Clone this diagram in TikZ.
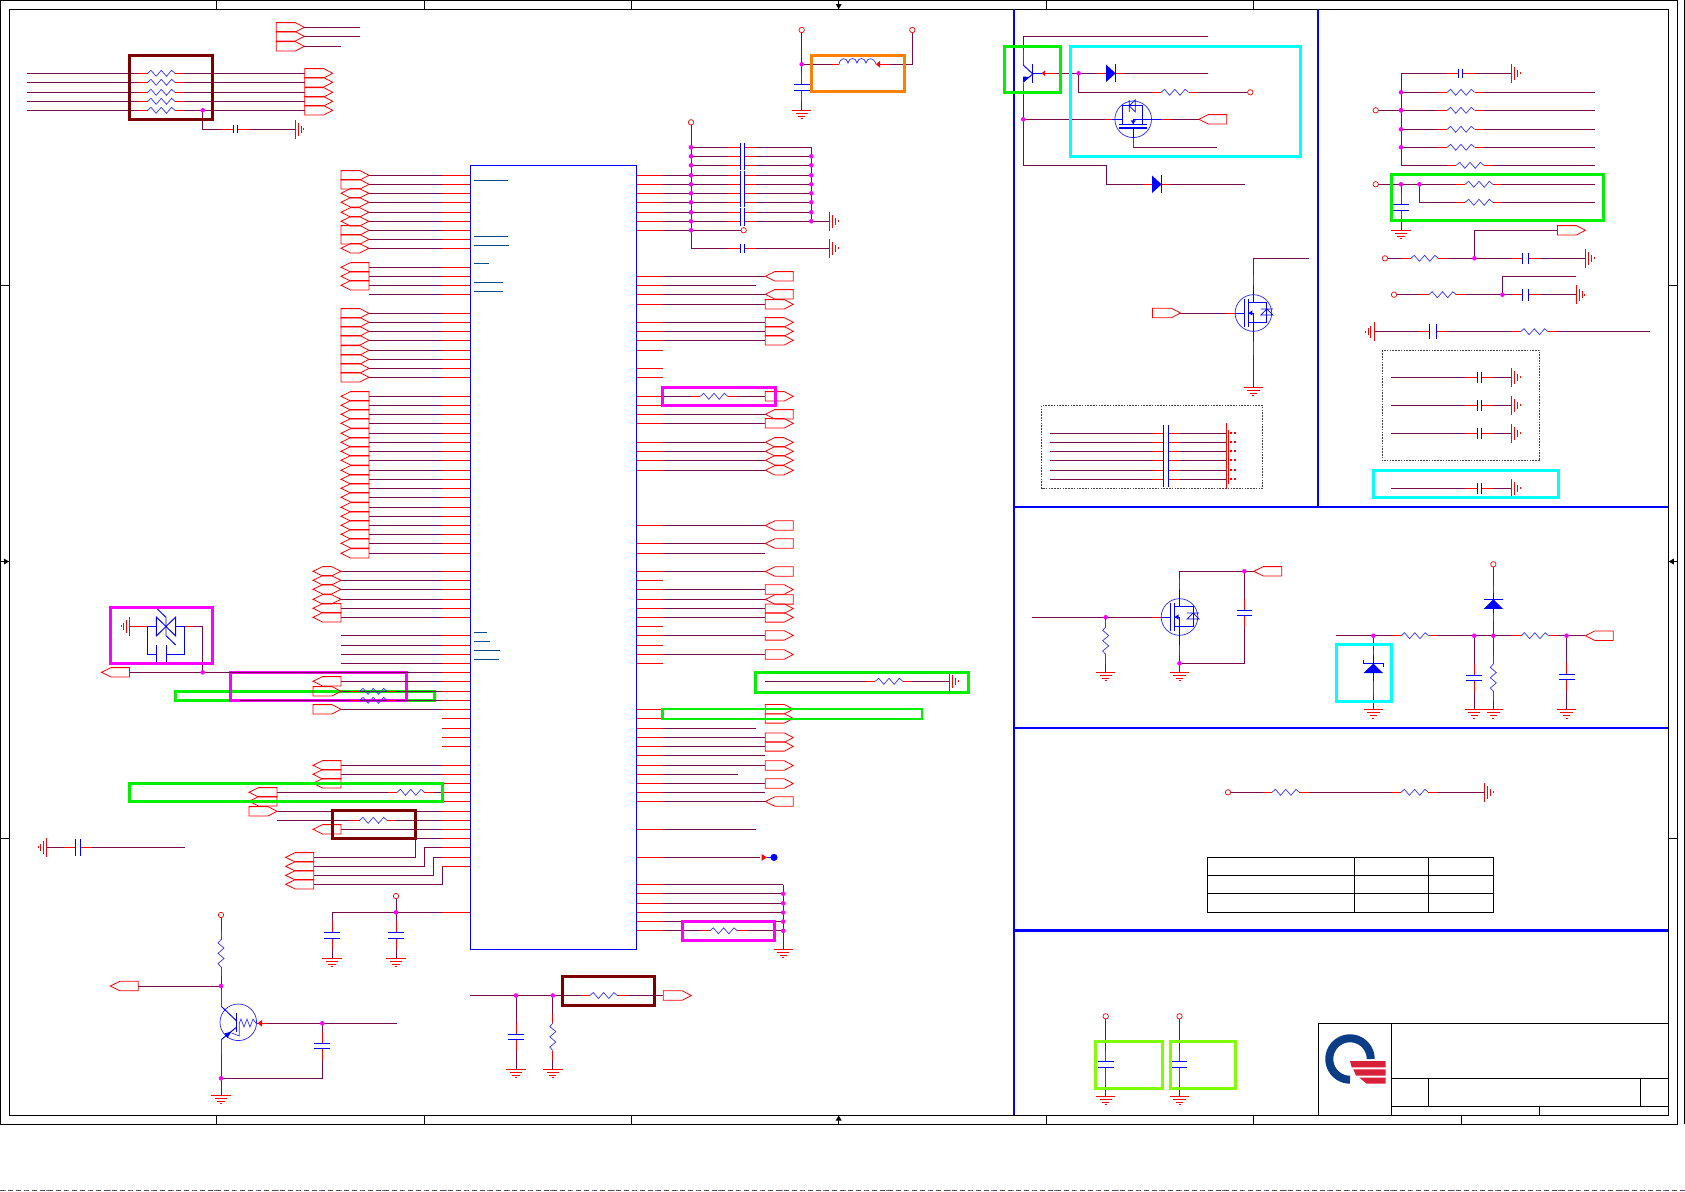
\documentclass[tikz,border=0pt]{standalone}
\usetikzlibrary{calc}
\definecolor{wirec}{HTML}{7A0A4E}
\definecolor{redc}{HTML}{FF0000}
\definecolor{bluec}{HTML}{0000FF}
\definecolor{marker}{HTML}{004A8F}
\definecolor{darkredc}{HTML}{7B0000}
\definecolor{greenc}{HTML}{00F000}
\definecolor{limec}{HTML}{7FFF00}
\definecolor{cyanc}{HTML}{00FFFF}
\definecolor{magc}{HTML}{FF00FF}
\definecolor{orangec}{HTML}{FF8000}
\definecolor{logob}{HTML}{0B3D87}
\definecolor{logor}{HTML}{D8203A}
\tikzset{
  wire/.style={draw=wirec,line width=0.95pt},
  stub/.style={draw=redc,line width=0.95pt},
  zig/.style={draw=bluec!80!white,line width=0.7pt,line join=miter},
  plate/.style={draw=bluec,line width=0.95pt},
  gndbar/.style={draw=redc,line width=0.95pt},
  portbox/.style={draw=redc,line width=0.8pt},
  frameline/.style={draw=black,line width=0.9pt},
  divider/.style={draw=bluec,line width=1.5pt},
  hilite/.style={line width=3pt,fill=none},
  chipbox/.style={draw=bluec,line width=1pt,anchor=north west,inner sep=0pt,minimum width=165.7pt,minimum height=783.7pt},
  dashbox/.style={draw=black!75,line width=0.6pt,dash pattern=on 1.6pt off 1.2pt},
  bartick/.style={draw=marker,line width=0.9pt}
}
\newcommand\portR[2]{\draw[portbox,shift={(#1,#2)}](0,-4.7)--(19,-4.7)--(28,0)--(19,4.7)--(0,4.7)--cycle;}
\newcommand\portL[2]{\draw[portbox,shift={(#1,#2)}](0,0)--(9.5,-4.7)--(28,-4.7)--(28,4.7)--(9.5,4.7)--cycle;}
\newcommand\portB[2]{\draw[portbox,shift={(#1,#2)}](0,0)--(9.5,-4.7)--(18.5,-4.7)--(28,0)--(18.5,4.7)--(9.5,4.7)--cycle;}
\newcommand\lpin[2]{\draw[wire](#2,#1)--(442,#1);\draw[stub](442,#1)--(ic.west |- 0,#1);}
\newcommand\lstub[1]{\draw[stub](442,#1)--(ic.west |- 0,#1);}
\newcommand\rpin[2]{\draw[wire](663,#1)--(#2,#1);\draw[stub](663,#1)--(ic.east |- 0,#1);}
\newcommand\rstub[1]{\draw[stub](663,#1)--(ic.east |- 0,#1);}
\newcommand\zigshape{\draw[zig](-13.7,0)--(-10.3,-3)--(-5.2,3)--(0,-3)--(5.2,3)--(10.3,-3)--(13.7,0);}
\newcommand\resH[2]{\begin{scope}[shift={(#1,#2)}]\draw[white,line width=1.6pt](-14,0)--(14,0);\draw[stub](-23,0)--(-13.7,0)(13.7,0)--(23,0);\zigshape\end{scope}}
\newcommand\resHn[2]{\begin{scope}[shift={(#1,#2)}]\draw[stub](-23,0)--(-13.7,0)(13.7,0)--(23,0);\zigshape\end{scope}}
\newcommand\resV[2]{\begin{scope}[shift={(#1,#2)},rotate=90]\draw[white,line width=1.6pt](-14,0)--(14,0);\draw[stub](-23,0)--(-13.7,0)(13.7,0)--(23,0);\zigshape\end{scope}}
\newcommand\capH[4]{\begin{scope}[shift={(#1,#2)}]\draw[white,line width=1.6pt](-#3,0)--(#3,0);\draw[stub](-14,0)--(-#3,0)(#3,0)--(14,0);\draw[plate](-#3,-#4)--(-#3,#4)(#3,-#4)--(#3,#4);\end{scope}}
\newcommand\capV[4]{\begin{scope}[shift={(#1,#2)}]\draw[white,line width=1.6pt](0,-#3)--(0,#3);\draw[stub](0,-14)--(0,-#3)(0,#3)--(0,14);\draw[plate](-#4,-#3)--(#4,-#3)(-#4,#3)--(#4,#3);\end{scope}}
\newcommand\gndshape{\draw[gndbar](-9.7,0)--(9.7,0)(-6.2,3.2)--(6.2,3.2)(-3.6,6)--(3.6,6)(-1,8.6)--(1,8.6);}
\newcommand\gndD[2]{\begin{scope}[shift={(#1,#2)}]\gndshape\end{scope}}
\newcommand\gndR[2]{\begin{scope}[shift={(#1,#2)},rotate=90]\gndshape\end{scope}}
\newcommand\gndL[2]{\begin{scope}[shift={(#1,#2)},rotate=-90]\gndshape\end{scope}}
\newcommand\vcc[2]{\draw[draw=redc,line width=0.7pt,fill=white](#1,#2) circle (2.7);}
\newcommand\junc[2]{\fill[fill=magc](#1,#2) circle (2.3);}
\newcommand\mosbody{%
  \draw[draw=bluec!85!white,line width=0.7pt](0,0) circle (18.3);
  \draw[plate](-18.3,0)--(-8.8,0);
  \draw[draw=bluec,line width=1.4pt](-8.8,-14)--(-8.8,14);
  \draw[draw=bluec,line width=1.1pt](-5.2,-14)--(-5.2,14);
  \draw[plate](0,-28)--(0,-10.3)--(-5.2,-10.3)(0,-10.3)--(13.5,-10.3)--(13.5,9.7)--(-5.2,9.7)(0,9.7)--(0,28);
  \draw[plate](-5.2,0)--(0,0)--(0,9.7);
  \fill[bluec](-4.8,0)--(-1,-2.6)--(-1,2.6)--cycle;
  \draw[draw=bluec,line width=0.7pt](7.5,-4)--(19.5,-4)(13.5,-4)--(7.5,2)--(19.5,2)--cycle;
}
\newcommand\mosV[2]{\begin{scope}[shift={(#1,#2)}]\mosbody\end{scope}}
\newcommand\mosG[2]{\begin{scope}[shift={(#1,#2)},rotate=90]\mosbody\end{scope}}
\newcommand\diodeH[2]{\begin{scope}[shift={(#1,#2)}]\draw[white,line width=1.6pt](-5,0)--(5,0);\draw[stub](-14,0)--(-5,0)(4.8,0)--(13,0);\fill[bluec](-5,-8.8)--(4.6,0)--(-5,8.8)--cycle;\draw[plate](4.6,-9)--(4.6,9);\end{scope}}
\newcommand\diodeV[2]{\begin{scope}[shift={(#1,#2)}]\draw[white,line width=1.6pt](0,0)--(0,9.6);\draw[stub](0,-14)--(0,-6)(0,10)--(0,22);\draw[plate](0,-6)--(0,0)(0,9.6)--(0,14);\fill[bluec](-9.6,9.6)--(0,0)--(9.6,9.6)--cycle;\draw[plate](-9.6,0)--(9.6,0);\end{scope}}
\begin{document}
\begin{tikzpicture}[x=1pt,y=-1pt]
\useasboundingbox (0,0) rectangle (1685,1191);
\fill[white] (0,0) rectangle (1685,1191);

% ---------- sheet frame ----------
\draw[frameline] (0.5,0.5) rectangle (1677,1124);
\draw[frameline] (9.3,9.3) rectangle (1668.4,1115);
\draw[frameline] (1684,0)--(1684,1124);
\foreach \x in {216.7,424.3,631.7,838.7,1046.7,1253.4} {\draw[frameline] (\x,0.5)--(\x,9.3);}
\foreach \x in {216.7,424.3,631.7,838.7,1046.7,1253.4,1461} {\draw[frameline] (\x,1115)--(\x,1124);}
\foreach \y in {285.3,838.3} {\draw[frameline] (0.5,\y)--(9.3,\y); \draw[frameline] (1668.4,\y)--(1677,\y);}
\draw[frameline] (0.5,561.5)--(9.3,561.5); \draw[frameline] (1668.4,561.5)--(1677,561.5);
\fill (838.7,9)--(835.7,4)--(841.7,4)--cycle;
\fill (838.7,1115.5)--(835.7,1120.5)--(841.7,1120.5)--cycle;
\fill (9,561.5)--(4,558.5)--(4,564.5)--cycle;
\fill (1668.8,561.5)--(1673.8,558.5)--(1673.8,564.5)--cycle;
\draw[draw=black!70,line width=0.8pt,dash pattern=on 5pt off 3pt] (0,1190.3)--(1685,1190.3);
\draw[draw=magc!60!green,line width=0.8pt,dash pattern=on 2pt off 19pt] (4,1190.3)--(1685,1190.3);

% ---------- dividers ----------
\draw[divider] (1014,9)--(1014,1115);
\draw[divider] (1318,9)--(1318,507);
\draw[divider,line width=2pt] (1014,507)--(1668.4,507);
\draw[divider,line width=2pt] (1014,728)--(1668.4,728);
\draw[divider,line width=2.6pt] (1014,930.3)--(1668.4,930.3);

% ---------- title block ----------
\draw[frameline] (1318.5,1115)--(1318.5,1023.3)--(1668.4,1023.3);
\draw[frameline] (1391.4,1023.3)--(1391.4,1115);
\draw[frameline] (1391.4,1078.3)--(1668.4,1078.3);
\draw[frameline] (1391.4,1106.3)--(1668.4,1106.3);
\draw[frameline] (1428.6,1078.3)--(1428.6,1106.3);
\draw[frameline] (1640.5,1078.3)--(1640.5,1106.3);
\draw[frameline] (1539.5,1106.3)--(1539.5,1115);
% logo
\draw[draw=logob,line width=8pt] plot[domain=0:270,samples=60] ({1350+20.7*cos(\x)},{1059-20.7*sin(\x)});
\fill[logor] (1350,1061)--(1385.7,1061)--(1385.7,1067.3)--(1351.7,1067.3)--cycle;
\fill[logor] (1353.3,1069.3)--(1385.7,1069.3)--(1385.7,1075.7)--(1356,1075.7)--cycle;
\fill[logor] (1359.3,1077.7)--(1385.7,1077.7)--(1385.7,1083.7)--(1366.7,1083.7)--cycle;

% ---------- table ----------
\draw[frameline] (1207.5,857.3) rectangle (1493.7,912.3);
\draw[frameline] (1207.5,875.3)--(1493.7,875.3);
\draw[frameline] (1207.5,893.3)--(1493.7,893.3);
\draw[frameline] (1354.3,857.3)--(1354.3,912.3);
\draw[frameline] (1428.6,857.3)--(1428.6,912.3);

% ---------- highlights under the wires ----------
\draw[hilite,draw=greenc] (175,691) rectangle (434,700.7);
\draw[hilite,draw=magc] (230,672) rectangle (406,700.3);

% ---------- main chip ----------
\node[chipbox] (ic) at (470.3,165.3) {};
\foreach \y/\e in {180.3/508,236.3/508,245.3/509,263.3/489,282.3/503,291.3/503,632.3/487,641.3/490,650.3/500,659.3/499}
  {\draw[bartick] (474.3,\y)--(\e,\y);}

% left pins, upper groups
\foreach \y in {175.3,184.3,230.3,239.3} {\lpin{\y}{369}\portR{341}{\y}}
\foreach \y in {193.3,202.3,212.3,221.3,248.3} {\lpin{\y}{369}\portB{341}{\y}}
\foreach \y in {267.3,276.3,285.3} {\lpin{\y}{369}\portL{341}{\y}}
\lpin{294.3}{369}
\foreach \y in {313.3,322.3,331.3,340.3,350.3,359.3,368.3,377.3} {\lpin{\y}{369}\portR{341}{\y}}
\foreach \y in {396.3,405.3,414.3,423.3,433.3,442.3,451.3,460.3,470.3,479.3,488.3,497.3,507.3,516.3,525.3,534.3,543.3,553.3} {\lpin{\y}{369}\portL{341}{\y}}
\foreach \y in {571.3,580.3,589.3,599.3} {\lpin{\y}{341}\portB{313}{\y}}
\foreach \y in {608.3,617.3} {\lpin{\y}{341}\portL{313}{\y}}
\foreach \y in {635.3,645.3,654.3,663.3} {\lpin{\y}{341}}
% left pins, lower groups
\lpin{672.3}{129.7}\portL{101.5}{672.3}
\lpin{681.3}{341}\portL{313}{681.3}
\lpin{691.3}{341}\portR{313}{691.3}\resHn{373.3}{691.3}
\lpin{700.3}{240}\resHn{373.3}{700.3}
\lpin{709.3}{341}\portR{313}{709.3}
\foreach \y in {718.3,728.3,737.3,746.3} {\lstub{\y}}
\foreach \y in {765.3,774.3,783.3} {\lpin{\y}{341}\portL{313}{\y}}
\lpin{792.3}{277}\portL{249}{792.3}\resH{410.7}{792.3}
\lpin{801.3}{277}\portL{249}{801.3}
\lpin{811.3}{277}\portR{249}{811.3}
\lpin{820.3}{277}\resH{373.3}{820.3}
\lpin{829.3}{341}\portL{313}{829.3}
\draw[wire] (442,838.3)--(415,838.3)--(415,857.3)--(313.7,857.3); \lstub{838.3}
\draw[wire] (442,847.3)--(424.3,847.3)--(424.3,866.3)--(313.7,866.3); \lstub{847.3}
\draw[wire] (442,857.3)--(433.3,857.3)--(433.3,875.3)--(313.7,875.3); \lstub{857.3}
\draw[wire] (442.3,866.3)--(442.3,884.3)--(313.7,884.3); \lstub{866.3}
\foreach \y in {857.3,866.3,875.3,884.3} {\portL{285.7}{\y}}

% chip supply pin with two capacitors
\lpin{912.3}{332}
\draw[wire] (332,912.3)--(332,958.3);
\capV{332}{935.3}{3}{8}
\gndD{332}{958.3}
\draw[wire] (396,898.7)--(396,958.3);
\capV{396}{935.3}{3}{8}
\gndD{396}{958.3}
\vcc{396}{896}
\junc{396}{912.3}

% right pins: decoupling bank
\draw[wire] (691,125)--(691,248.3)--(829.7,248.3);
\draw[wire] (811.3,147.3)--(811.3,221.3);
\foreach \y in {147.3,156.3,165.3} {\draw[wire] (691,\y)--(811.3,\y);}
\foreach \y in {175.3,184.3,193.3,202.3,212.3,221.3} {\rpin{\y}{811.3}}
\draw[wire] (811.3,221.3)--(829.7,221.3);
\rpin{230.3}{741}
\foreach \y in {147.3,156.3,165.3,175.3,184.3,193.3,202.3,212.3,221.3} {\capH{742.3}{\y}{2}{4.8}\junc{691}{\y}}
\foreach \y in {156.3,165.3,175.3,184.3,193.3,202.3,212.3,221.3} {\junc{811.3}{\y}}
\capH{742.3}{248.3}{2}{4.8}
\junc{691}{230.3}
\vcc{691}{122.3}
\vcc{743.7}{230.3}
\gndR{829.7}{221.3}
\gndR{829.7}{248.3}

% right pins with ports
\foreach \y in {276.3,294.3,414.3,525.5,543.5,571.5,599.4,801.5} {\rpin{\y}{765.3}\portL{765.3}{\y}}
\foreach \y in {304.3,322.3,331.3,340.3,396.3,423.3,589.5,608.6,617.4,635.4,654.5,709.2,718.4,737.6,746.4,765.5,783.5} {\rpin{\y}{765.3}\portR{765.3}{\y}}
\foreach \y in {442.3,451.3,460.3,470.3} {\rpin{\y}{765.3}\portB{765.3}{\y}}
\rpin{285.3}{755.7}
\rpin{553}{765.3}
\rpin{728.4}{755.5}
\rpin{755.5}{765.3}
\rpin{774.3}{737.6}
\rpin{792.3}{765.3}
\rpin{829.4}{755.5}
\foreach \y in {350.3,368.3,377.3,405.3,580.3,626.6,645.3,663.3} {\rstub{\y}}
\resH{714}{396.3}
% no-connect test point
\rpin{857.4}{760}
\fill[redc] (767,857.4)--(761.5,854)--(761.5,860.8)--cycle;
\draw[plate] (767,857.4)--(774,857.4);
\fill[bluec] (774,857.4) circle (3.6);
% right pins to ground bus
\draw[wire] (783.2,884.5)--(783.2,949);
\foreach \y in {884.5,893.7,903.3,912.5,921.6,930.8} {\rpin{\y}{783.2}}
\foreach \y in {893.7,903.3,912.5,921.6,930.8} {\junc{783.2}{\y}}
\resH{723.6}{930.8}
\gndD{783.2}{949}
% series resistor to ground
\draw[wire] (765,681.3)--(949.5,681.3);
\resH{889}{681.3}
\gndR{949.5}{681.3}

% ---------- top left ----------
\foreach \y in {27.3,36.3} {\draw[wire] (304,\y)--(360,\y); \portR{276.3}{\y}}
\draw[wire] (304,46.3)--(341,46.3); \portR{276.3}{46.3}
\foreach \y in {73.3,82.3,92.3,101.3,110.3} {\draw[wire] (27,\y)--(304.7,\y); \resH{161.3}{\y} \portR{304.7}{\y}}
\draw[wire] (202.7,110.3)--(202.7,129.3)--(295.3,129.3);
\capH{235.7}{129.3}{2}{4}
\junc{202.7}{110.3}
\gndR{295.3}{129.3}

% ---------- inductor ----------
\draw[wire] (801.7,32.7)--(801.7,110);
\capV{801.7}{87.3}{2.7}{7.8}
\gndD{801.7}{110}
\draw[wire] (801.7,64.3)--(832,64.3);
\draw[stub] (832,64.3)--(839,64.3);
\draw[zig] (839,64.3) .. controls (840,57) and (847,57) .. (848,63) .. controls (849,57) and (856,57) .. (857,63) .. controls (858,57) and (865,57) .. (866,63) .. controls (867,57) and (874,57) .. (876,64.3);
\draw[wire] (883,64.3)--(912.3,64.3)--(912.3,32.7);
\draw[stub] (877,64.3)--(890,64.3);
\fill[redc] (876,64.3)--(880,61)--(880,67.6)--cycle;
\vcc{801.7}{30}\vcc{912.3}{30}
\junc{801.7}{64.3}

% ---------- ESD block ----------
\draw[stub] (129.7,626.3)--(147.7,626.3);
\gndL{129.7}{626.3}
\draw[plate] (147.7,626.3)--(156.3,626.3);
\draw[plate] (156.3,617)--(156.3,636)--(175.7,617)--(175.7,636)--cycle;
\draw[plate] (156.7,608.3)--(166,617.3)--(166,635.7)--(175.7,645);
\draw[plate] (175.7,626.3)--(184.3,626.3);
\draw[stub] (184.3,626.3)--(193,626.3);
\draw[wire] (193,626.3)--(202.7,626.3)--(202.7,672.3);
\draw[plate] (147.7,626.3)--(147.7,654.3)--(156.3,654.3);
\draw[plate] (156.3,645)--(156.3,663)(166.3,645)--(166.3,663);
\draw[plate] (166.3,654.3)--(184.3,654.3)--(184.3,626.3);
\junc{202.7}{672.3}

% ---------- cap to ground, far left ----------
\draw[wire] (46.7,847.3)--(184.7,847.3);
\capH{78}{847.3}{2.8}{8.8}
\gndL{46.7}{847.3}

% ---------- lower-left transistor ----------
\draw[wire] (221,917.7)--(221,1006.7);
\draw[stub] (221,990)--(221,1006.7);
\resV{221}{953.3}
\vcc{221}{915}
\draw[wire] (138.3,986)--(221,986);
\portL{110.3}{986}
\junc{221}{986}
\draw[draw=bluec!85!white,line width=0.7pt] (238.3,1022.3) circle (18.3);
\draw[plate] (236.7,1013.3)--(236.7,1031.7);
\draw[plate] (221.7,1006.7)--(236.7,1021);
\draw[plate] (236.7,1027)--(221.7,1039.3);
\fill[bluec] (231.5,1031.5)--(224.5,1033.5)--(227.5,1038)--cycle;
\draw[zig] (239.3,1023)--(241,1019)--(244,1027)--(247,1019)--(250,1027)--(253,1019)--(256,1023.3);
\draw[zig] (239.3,1023)--(239.3,1036)--(231.7,1033);
\draw[stub] (221,1039.3)--(221,1055);
\draw[wire] (221,1055)--(221,1078.3)--(322.3,1078.3)--(322.3,1023.3);
\draw[wire] (266,1023.3)--(396.7,1023.3);
\draw[stub] (256.7,1023.3)--(267,1023.3);
\fill[redc] (257.7,1023.3)--(262,1020)--(262,1026.6)--cycle;
\capV{322.3}{1046}{2.8}{8}
\junc{322.3}{1023.3}
\draw[wire] (221,1078.3)--(221,1095);
\junc{221}{1078.3}
\gndD{221}{1095}

% ---------- lower-centre RC ----------
\draw[wire] (470,995.5)--(663.3,995.5);
\resH{603.6}{995.5}
\portR{663.3}{995.5}
\draw[wire] (516,995.5)--(516,1069);
\capV{516}{1037}{2.5}{8}
\gndD{516}{1069}
\draw[wire] (552.8,995.5)--(552.8,1069);
\resV{552.8}{1036.8}
\gndD{552.8}{1069}
\junc{516}{995.5}\junc{552.8}{995.5}

% ---------- top-right left panel ----------
\draw[wire] (1207.5,36.3)--(1023.2,36.3)--(1023.2,65);
\draw[stub] (1023.2,50)--(1023.2,65);
\draw[plate] (1032.8,64)--(1032.8,82.7);
\draw[plate] (1023.2,65)--(1032.8,74)--(1023.2,82);
\fill[bluec] (1029,77)--(1023.2,76.5)--(1023.2,82.7)--cycle;
\draw[plate] (1032.8,73.3)--(1042,73.3);
\draw[stub] (1042,73.3)--(1056,73.3);
\fill[redc] (1041.5,73.3)--(1045,70.5)--(1045,76.1)--cycle;
\draw[wire] (1023.2,83)--(1023.2,165.3)--(1106.6,165.3)--(1106.6,184.3)--(1244.6,184.3);
\draw[stub] (1023.2,83)--(1023.2,95);
\diodeH{1157}{184.3}
\draw[wire] (1056,73.3)--(1207.5,73.3);
\diodeH{1111}{73.3}
\draw[wire] (1078.6,73.3)--(1078.6,92.3)--(1247.6,92.3);
\resH{1174.8}{92.3}
\vcc{1250.3}{92.3}
\junc{1078.6}{73.3}
\draw[wire] (1023.2,119.3)--(1105,119.3);
\draw[wire] (1161,119.3)--(1198.8,119.3);
\mosG{1133.2}{119.3}
\draw[stub] (1105,119.3)--(1112,119.3);
\draw[stub] (1161,119.3)--(1171,119.3);
\draw[stub] (1133.2,137.6)--(1133.2,147);
\draw[wire] (1133.2,147)--(1216.7,147);
\portL{1198.8}{119.3}
\junc{1023.2}{119.3}

\draw[wire] (1308.9,258.3)--(1253.4,258.3)--(1253.4,285);
\draw[stub] (1253.4,275)--(1253.4,285);
\mosV{1253.4}{313}
\draw[stub] (1253.4,341)--(1253.4,355);
\draw[wire] (1253.4,355)--(1253.4,387.3);
\gndD{1253.4}{387.3}
\draw[wire] (1180,313)--(1226,313);
\draw[stub] (1226,313)--(1235,313);
\portR{1152.5}{313}

% dashed capacitor bank
\draw[dashbox] (1041.5,405.7) rectangle (1262.6,488.3);
\foreach \y in {433.3,442.3,451.3,460.3,470.3,479.3} {
  \draw[wire] (1050,\y)--(1226.3,\y);
  \draw[white,line width=1.6pt] (1163,\y)--(1168.6,\y);
  \draw[stub] (1152,\y)--(1163,\y) (1168.6,\y)--(1180,\y);
  \fill[redc] (1229.8,\y-0.9) rectangle (1231.6,\y+0.9);
  \fill[redc] (1233.8,\y-0.9) rectangle (1235.6,\y+0.9);
}
\draw[draw=bluec,line width=1pt] (1163,425)--(1163,487) (1168.6,425)--(1168.6,487);
\draw[gndbar] (1226.6,423.3)--(1226.6,489) (1228.8,430)--(1228.8,484);

% ---------- top-right right panel ----------
\draw[wire] (1511.6,73.3)--(1401,73.3)--(1401,165.3);
\capH{1460.9}{73.3}{2}{4.7}
\gndR{1511.6}{73.3}
\foreach \y in {92.3,110.3,129.3,147.3} {\draw[wire] (1401,\y)--(1594.6,\y); \resH{1460.9}{\y} \junc{1401}{\y}}
\draw[wire] (1401,165.3)--(1594.6,165.3); \resH{1470}{165.3}
\draw[wire] (1378.4,110.3)--(1401,110.3);
\junc{1401}{110.3}
\vcc{1375.7}{110.3}
\draw[wire] (1378.4,184.3)--(1594.6,184.3); \resH{1479}{184.3}
\vcc{1375.7}{184.3}
\draw[wire] (1401,184.3)--(1401,230);
\capV{1401}{207.3}{3}{7.7}
\gndD{1401}{230}
\draw[wire] (1419.4,184.3)--(1419.4,202.3)--(1594.6,202.3); \resH{1479}{202.3}
\junc{1401}{184.3}\junc{1419.4}{184.3}

\draw[wire] (1387.6,258.3)--(1585.4,258.3);
\resH{1424.6}{258.3}
\capH{1525.5}{258.3}{2.6}{5.8}
\gndR{1585.4}{258.3}
\vcc{1384.9}{258.3}
\draw[wire] (1474.4,258.3)--(1474.4,230.3)--(1557.4,230.3);
\portR{1557.4}{230.3}
\junc{1474.4}{258.3}

\draw[wire] (1396.7,294.7)--(1576,294.7);
\resH{1442.5}{294.7}
\capH{1525.5}{294.7}{2.6}{5.8}
\gndR{1576}{294.7}
\vcc{1394}{294.7}
\draw[wire] (1502.4,294.7)--(1502.4,276.3)--(1575.8,276.3);
\junc{1502.4}{294.7}

\draw[wire] (1374,331.7)--(1650,331.7);
\gndL{1374}{331.7}
\capH{1433}{331.7}{3.3}{7.7}
\resH{1534.3}{331.7}

\draw[dashbox] (1382.3,350.3) rectangle (1539.5,460.7);
\foreach \y in {377.3,405.3,433.3,488.3} {\draw[wire] (1391,\y)--(1511.6,\y); \capH{1479.2}{\y}{2}{5.8} \gndR{1511.6}{\y}}

% ---------- middle panel, left ----------
\draw[wire] (1032,617.3)--(1161,617.3);
\draw[stub] (1152,617.3)--(1161.5,617.3);
\mosV{1179.5}{617}
\draw[wire] (1105.7,617.3)--(1105.7,672.3);
\junc{1105.7}{617.3}
\resV{1105.7}{640.7}
\gndD{1105.7}{672.3}
\draw[wire] (1179.5,589)--(1179.5,571.3)--(1253.7,571.3);
\draw[stub] (1179.5,589)--(1179.5,578);
\draw[wire] (1244.3,571.3)--(1244.3,663.3)--(1179.5,663.3)--(1179.5,645);
\draw[stub] (1179.5,645)--(1179.5,655);
\capV{1244.3}{612.7}{2.7}{7.6}
\portL{1253.7}{571.3}
\junc{1244.3}{571.3}
\draw[wire] (1179.5,663.3)--(1179.5,672.3);
\junc{1179.5}{663.3}
\gndD{1179.5}{672.3}

% ---------- middle panel, right ----------
\draw[wire] (1336,635.7)--(1585.3,635.7);
\resH{1414.8}{635.7}
\resH{1534.8}{635.7}
\portL{1585.3}{635.7}
\draw[wire] (1373.3,635.7)--(1373.3,709.7);
\draw[white,line width=1.6pt] (1373.3,663.3)--(1373.3,673);
\draw[stub] (1373.3,650)--(1373.3,655) (1373.3,681)--(1373.3,695);
\draw[plate] (1373.3,655)--(1373.3,663.3) (1373.3,673)--(1373.3,681);
\fill[bluec] (1363.6,673)--(1373.3,663.5)--(1383,673)--cycle;
\draw[plate] (1363.8,659.5)--(1363.8,663.3)--(1383,663.3)--(1383,667);
\gndD{1373.3}{709.7}
\draw[wire] (1474.2,635.7)--(1474.2,709.7);
\capV{1474.2}{678}{2.8}{8}
\gndD{1474.2}{709.7}
\draw[wire] (1493.3,567)--(1493.3,709.7);
\vcc{1493.3}{564.3}
\diodeV{1493.3}{599.3}
\resV{1493.3}{677.7}
\gndD{1493.3}{709.7}
\draw[wire] (1566.6,635.7)--(1566.6,709.7);
\capV{1566.6}{676.8}{2.6}{8}
\gndD{1566.6}{709.7}
\junc{1373.3}{635.7}\junc{1474.2}{635.7}\junc{1493.3}{635.7}\junc{1566.6}{635.7}

% ---------- lower panel ----------
\draw[wire] (1230.7,792.3)--(1484.5,792.3);
\vcc{1228}{792.3}
\resH{1285.7}{792.3}
\resH{1414.6}{792.3}
\gndR{1484.5}{792.3}

% ---------- bottom decoupling ----------
\foreach \x in {1105.7,1179.5} {
  \draw[wire] (\x,1019)--(\x,1096.3);
  \capV{\x}{1064.3}{3}{7.8}
  \draw[stub] (\x,1070)--(\x,1085);
  \gndD{\x}{1096.3}
  \vcc{\x}{1016.3}
}

% ---------- highlights over the wires ----------
\draw[hilite,draw=darkredc] (129,55) rectangle (212,119.7);
\draw[hilite,draw=orangec] (811,55) rectangle (904,91.7);
\draw[hilite,draw=greenc] (1004.4,46) rectangle (1060,92);
\draw[hilite,draw=cyanc] (1070,46) rectangle (1300,156.7);
\draw[hilite,draw=greenc] (1391.4,174.7) rectangle (1603.7,220.7);
\draw[hilite,draw=cyanc] (1373.5,470) rectangle (1558,497.7);
\draw[hilite,draw=magc] (662.7,387) rectangle (775,405.7);
\draw[hilite,draw=magc] (110,607.7) rectangle (212,663.3);
\draw[hilite,draw=greenc] (129,783) rectangle (442.7,801.7);
\draw[hilite,draw=darkredc] (332,810.7) rectangle (415,838.7);
\draw[hilite,draw=greenc] (755,672) rectangle (968,692);
\draw[hilite,draw=greenc,line width=2.4pt] (662.6,708.9) rectangle (922,718.8);
\draw[hilite,draw=magc] (682,921.3) rectangle (774.8,940);
\draw[hilite,draw=darkredc] (562,976.4) rectangle (654.8,1005);
\draw[hilite,draw=cyanc] (1336.4,644.7) rectangle (1391.5,701);
\draw[hilite,draw=limec] (1095.7,1041) rectangle (1162,1088);
\draw[hilite,draw=limec] (1170,1041) rectangle (1235,1088);
\end{tikzpicture}
\end{document}
